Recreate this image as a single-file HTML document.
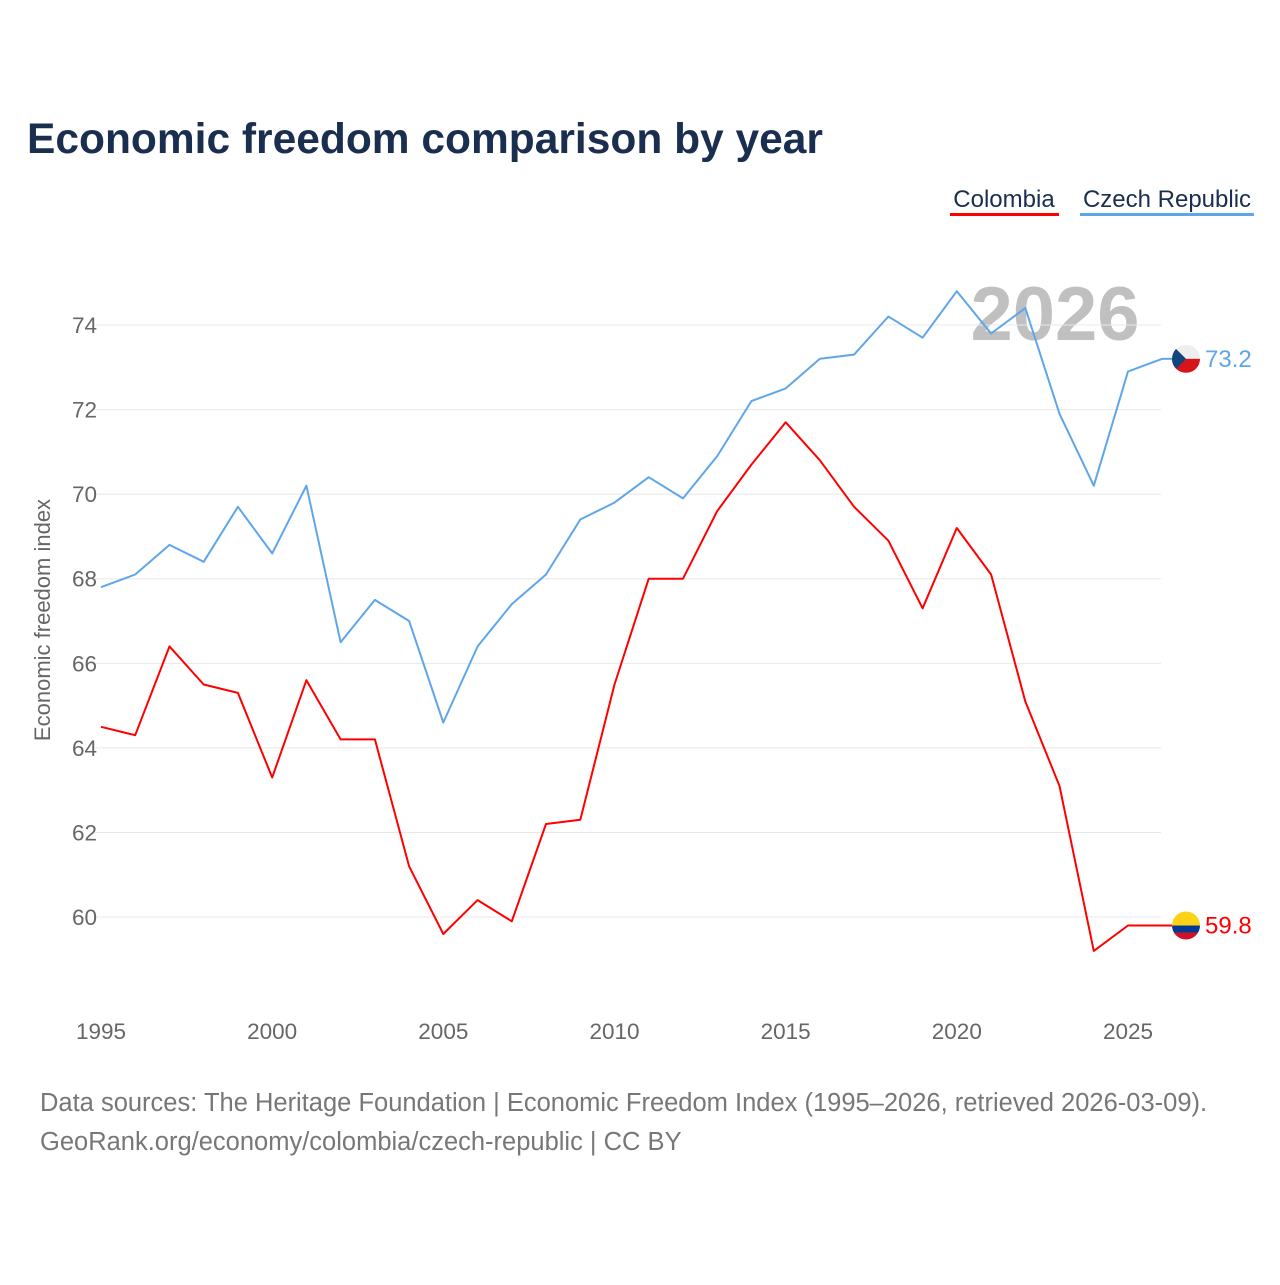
<!DOCTYPE html>
<html><head><meta charset="utf-8"><style>
body{margin:0;background:#fff;width:1280px;height:1280px;overflow:hidden;font-family:"Liberation Sans",sans-serif}
</style></head><body>
<svg id="chart" width="1280" height="1280" xmlns="http://www.w3.org/2000/svg">
<rect width="1280" height="1280" fill="#fff"/>
<text x="27" y="153" font-size="42.5" font-weight="bold" fill="#1a2e4f">Economic freedom comparison by year</text>
<g>
<text x="1004" y="207" font-size="24" fill="#1a2e4f" text-anchor="middle">Colombia</text>
<rect x="950" y="213" width="109" height="3" fill="#ff0000"/></g>
<g>
<text x="1167" y="207" font-size="24" fill="#1a2e4f" text-anchor="middle">Czech Republic</text>
<rect x="1080" y="213" width="174" height="3" fill="#5ea6ea"/></g>
<text x="1055" y="340" font-size="76" font-weight="bold" fill="#c0c0c0" text-anchor="middle">2026</text>
<text transform="translate(50,620) rotate(-90)" font-size="22" fill="#666" text-anchor="middle">Economic freedom index</text>
<g id="grid"></g><g id="series"></g>
<text x="40" y="1111" font-size="25.5" fill="#777">Data sources: The Heritage Foundation | Economic Freedom Index (1995–2026, retrieved 2026-03-09).</text>
<text x="40" y="1150" font-size="25.5" fill="#777">GeoRank.org/economy/colombia/czech-republic | CC BY</text>
</svg>
<script>
const years=[1995,1996,1997,1998,1999,2000,2001,2002,2003,2004,2005,2006,2007,2008,2009,2010,2011,2012,2013,2014,2015,2016,2017,2018,2019,2020,2021,2022,2023,2024,2025,2026];
const czech=[67.8,68.1,68.8,68.4,69.7,68.6,70.2,66.5,67.5,67.0,64.6,66.4,67.4,68.1,69.4,69.8,70.4,69.9,70.9,72.2,72.5,73.2,73.3,74.2,73.7,74.8,73.8,74.4,71.9,70.2,72.9,73.2];
const colombia=[64.5,64.3,66.4,65.5,65.3,63.3,65.6,64.2,64.2,61.2,59.6,60.4,59.9,62.2,62.3,65.5,68.0,68.0,69.6,70.7,71.7,70.8,69.7,68.9,67.3,69.2,68.1,65.1,63.1,59.2,59.8,59.8];
const yTicks=[60,62,64,66,68,70,72,74];
const xTicks=[1995,2000,2005,2010,2015,2020,2025];
const NS="http://www.w3.org/2000/svg";
const x=v=>101+(v-1995)*34.233;
const y=v=>325+(74-v)*42.29;
const grid=document.getElementById('grid'),ser=document.getElementById('series');
function mk(tag,attrs,parent){const e=document.createElementNS(NS,tag);for(const k in attrs)e.setAttribute(k,attrs[k]);parent.appendChild(e);return e;}
yTicks.forEach(t=>{
 const l=mk('line',{x1:95,x2:1161,y1:y(t),y2:y(t),stroke:'#e8e8e8','stroke-width':1},grid);
 
 
 const tx=mk('text',{x:97,y:y(t)+8,'font-size':22.5,fill:'#666','text-anchor':'end'},grid);tx.textContent=t;
 
 
});
xTicks.forEach(t=>{
 const tx=mk('text',{x:x(t),y:1039,'font-size':22.5,fill:'#666','text-anchor':'middle'},grid);tx.textContent=t;
 
 
});
function line(vals,color,name){
 const d=vals.map((v,i)=>(i?'L':'M')+x(years[i]).toFixed(1)+','+y(v).toFixed(1)).join('');
 const p=mk('path',{d:d,fill:'none',stroke:color,'stroke-width':2,'stroke-linejoin':'round'},ser);
 
 
 const last=vals[vals.length-1];
 const ly=y(last);
 const tx=mk('text',{x:1205,y:ly+8,'font-size':24,fill:color},ser);tx.textContent=last.toFixed(1);
 
 
 return ly;
}
const cy=line(czech,'#5ea6ea','czech-republic-line');
const oy=line(colombia,'#ff0000','colombia-line');
mk('line',{x1:1162,x2:1172,y1:cy,y2:cy,stroke:'#5ea6ea','stroke-width':2},ser);
mk('line',{x1:1162,x2:1172,y1:oy,y2:oy,stroke:'#ff0000','stroke-width':2},ser);
const cf=mk('g',{},ser);


const ccp=mk('clipPath',{id:'cc'},cf);mk('circle',{cx:1186,cy:cy,r:14},ccp);
const g1=mk('g',{'clip-path':'url(#cc)'},cf);
mk('rect',{x:1172,y:cy-14,width:28,height:14,fill:'#eeeeee'},g1);
mk('rect',{x:1172,y:cy,width:28,height:14,fill:'#d7141a'},g1);
mk('polygon',{points:`1172,${cy-14} 1186,${cy} 1172,${cy+14}`,fill:'#11457e'},g1);
const of=mk('g',{},ser);


const cp=mk('clipPath',{id:'oc'},of);mk('circle',{cx:1186,cy:oy,r:14},cp);
const g2=mk('g',{'clip-path':'url(#oc)'},of);
mk('rect',{x:1172,y:oy-14,width:28,height:14,fill:'#fcd116'},g2);
mk('rect',{x:1172,y:oy,width:28,height:7,fill:'#003893'},g2);
mk('rect',{x:1172,y:oy+7,width:28,height:7,fill:'#ce1126'},g2);
</script>
</body></html>
